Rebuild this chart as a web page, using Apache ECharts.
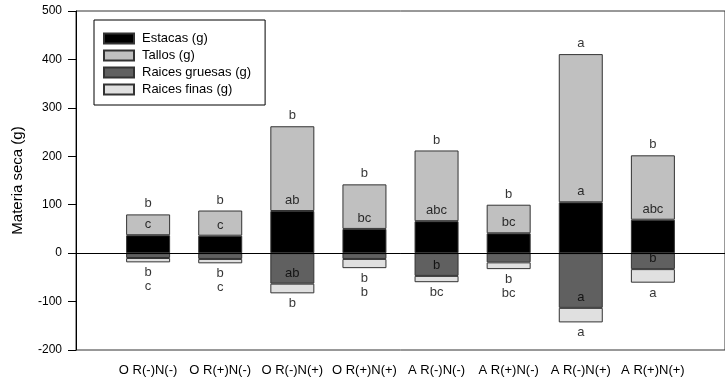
<!DOCTYPE html>
<html>
<head>
<meta charset="utf-8">
<script src="https://cdn.jsdelivr.net/npm/echarts@6/dist/echarts.min.js"></script>
<style>html,body{margin:0;padding:0;background:#fff}#c{width:725px;height:380px}</style>
</head>
<body>
<div id="c"></div>
<script>
const categories = ['O R(-)N(-)', 'O R(+)N(-)', 'O R(-)N(+)', 'O R(+)N(+)', 'A R(-)N(-)', 'A R(+)N(-)', 'A R(-)N(+)', 'A R(+)N(+)'];
const estacas = [37, 36, 87, 50, 66, 41, 105, 69];
const tallos = [43, 52, 175, 92, 146, 59, 306, 133];
const raicesGruesas = [-10, -12, -63, -12, -47, -19, -113, -33];
const raicesFinas = [-9, -9, -20, -19, -13, -14, -30, -28];
const lettersTop = ['b', 'b', 'b', 'b', 'b', 'b', 'a', 'b'];
const lettersTallos = ['c', 'c', 'ab', 'bc', 'abc', 'bc', 'a', 'abc'];
const lettersGruesas = ['', '', 'ab', '', 'b', '', 'a', 'b'];
const lettersBelow = ['b\nc', 'b\nc', 'b', 'b\nb', 'bc', 'b\nbc', 'a', 'a'];
const yTicks = [-200, -100, 0, 100, 200, 300, 400, 500];

const FONT = 'Liberation Sans, Arial, sans-serif';
const pos = categories.map((c, i) => i + 1);
// value first, position second (so the value is the stacked dimension)
const yx = arr => arr.map((v, i) => [v, pos[i]]);
const borderStyle = { borderColor: '#333', borderWidth: 1 };

function barSeries(name, values, color) {
  return {
    name: name, type: 'bar', stack: 'total', barWidth: 44,
    data: yx(values), encode: { x: 1, y: 0 },
    itemStyle: Object.assign({ color: color }, borderStyle)
  };
}

function letterSeries(name, yVals, letters, position) {
  return {
    name: name, type: 'scatter', symbolSize: 1, silent: true,
    itemStyle: { color: 'rgba(0,0,0,0)' },
    data: yVals.map((v, i) => [pos[i], v, letters[i]]),
    label: {
      show: true, position: position, distance: 3, color: '#000',
      fontFamily: FONT, fontSize: 13, lineHeight: 14,
      formatter: p => p.data[2]
    },
    z: 5
  };
}

const chart = echarts.init(document.getElementById('c'), null, { renderer: 'canvas' });
const estacasSeries = barSeries('Estacas (g)', estacas, '#000000');
estacasSeries.markLine = { silent: true, symbol: ['none', 'none'], label: { show: false },
  lineStyle: { color: '#000', width: 1, type: 'solid' }, data: [{ yAxis: 0 }] };

chart.setOption({
  animation: false,
  textStyle: { fontFamily: FONT },
  grid: { left: 76, right: -7, top: 11, bottom: 30, show: true, borderColor: '#333', borderWidth: 1, backgroundColor: 'transparent' },
  legend: {
    data: ['Estacas (g)', 'Tallos (g)', 'Raices gruesas (g)', 'Raices finas (g)'],
    orient: 'vertical', left: 94, top: 20,
    itemWidth: 30, itemHeight: 10, itemGap: 4,
    padding: [12, 14, 9, 9],
    borderColor: '#000', borderWidth: 1,
    icon: 'rect',
    textStyle: { fontFamily: FONT, fontSize: 13, color: '#000', padding: [0, 0, 0, 3] },
    selectedMode: false
  },
  xAxis: {
    type: 'value', min: 0, max: 9, interval: 1,
    axisLine: { lineStyle: { color: '#000' } },
    axisTick: { show: true, length: 5, lineStyle: { color: '#000' }, customValues: pos },
    axisLabel: { color: '#000', fontSize: 13, fontFamily: FONT, margin: 14, customValues: pos,
      formatter: v => categories[Math.round(v) - 1] || '' },
    splitLine: { show: false }
  },
  yAxis: {
    type: 'value', min: -200, max: 500, interval: 100,
    name: 'Materia seca (g)', nameLocation: 'middle', nameGap: 51,
    nameTextStyle: { fontSize: 15, color: '#000', fontFamily: FONT },
    axisLine: { show: true, lineStyle: { color: '#000' } },
    axisTick: { show: true, length: 8, lineStyle: { color: '#000' } },
    axisLabel: { color: '#000', fontSize: 12, fontFamily: FONT, margin: 14 },
    splitLine: { show: false }
  },
  series: [
    estacasSeries,
    barSeries('Tallos (g)', tallos, '#c0c0c0'),
    barSeries('Raices gruesas (g)', raicesGruesas, '#606060'),
    barSeries('Raices finas (g)', raicesFinas, '#e0e0e0'),
    letterSeries('lt', estacas.map((v, i) => v + tallos[i]), lettersTop, 'top'),
    letterSeries('li', estacas, lettersTallos, 'top'),
    letterSeries('lg', raicesGruesas, lettersGruesas, 'top'),
    letterSeries('lb', raicesGruesas.map((v, i) => v + raicesFinas[i]), lettersBelow, 'bottom')
  ]
});
</script>
</body>
</html>
